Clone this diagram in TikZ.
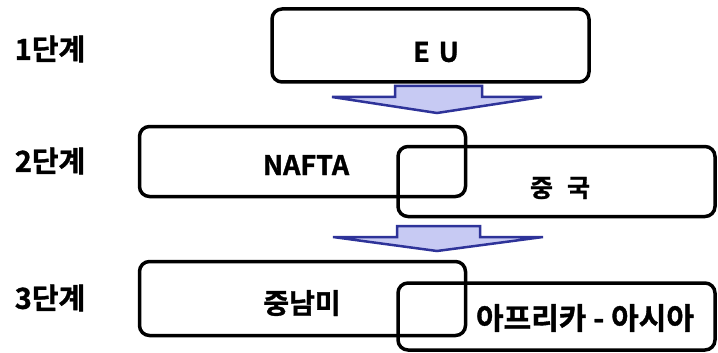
\documentclass[tikz,border=0pt]{standalone}
\usepackage{fontspec}
\setmainfont{Noto Sans CJK KR}[BoldFont={* Bold},BoldFeatures={FakeBold=1.2}]
\definecolor{arrfill}{HTML}{C7CAF3}
\definecolor{arrline}{HTML}{2E3399}
\begin{document}
\begin{tikzpicture}[x=1pt,y=-1pt,
  box/.style={draw=black,line width=3.5pt,rounded corners=10pt,inner sep=0pt},
  lbl/.style={inner sep=0pt,font=\bfseries\fontsize{27}{27}\selectfont},
  stage/.style={inner sep=0pt,font=\bfseries\fontsize{29}{29}\selectfont},
  blockarrow/.style={fill=arrfill,draw=arrline,line width=2.5pt,line join=miter}]
\useasboundingbox (0,0) rectangle (718,353);
% stage labels
\node[stage] (s1) at (50,49) {1단계};
\node[stage] (s2) at (50,161) {2단계};
\node[stage] (s3) at (50,298) {3단계};
% boxes
\node[box,minimum width=317pt,minimum height=73pt] (eu) at (430.5,45.5) {};
\node[box,minimum width=326pt,minimum height=70pt] (nafta) at (302.5,161.5) {};
\node[box,minimum width=317pt,minimum height=70pt] (china) at (556.5,181.5) {};
\node[box,minimum width=326pt,minimum height=74pt] (latam) at (302.5,298.5) {};
\node[box,minimum width=317pt,minimum height=67pt] (afas) at (556.5,316.5) {};
% texts
\node[lbl] (teu) at (436,52) {E\hspace{9pt}U};
\node[lbl] (tnafta) at (306,165) {NAFTA};
\node[lbl,font=\bfseries\fontsize{25}{25}\selectfont] (tchina) at (560,188) {중\hspace{14pt}국};
\node[lbl,font=\bfseries\fontsize{28}{28}\selectfont] (tlatam) at (302,303) {중남미};
\node[lbl,font=\bfseries\fontsize{30}{30}\selectfont] (tafas) at (585,318) {아프리카 - 아시아};
% block arrows
\coordinate (a1) at (437,113);
\coordinate (a2) at (437,251);
\draw[blockarrow] (395,86) -- (482,86) -- (482,97) -- (542,97) -- (a1) -- (332,97) -- (395,97) -- cycle;
\draw[blockarrow] (397,226) -- (480,226) -- (480,237) -- (543,237) -- (a2) -- (333,237) -- (397,237) -- cycle;
\end{tikzpicture}
\end{document}
